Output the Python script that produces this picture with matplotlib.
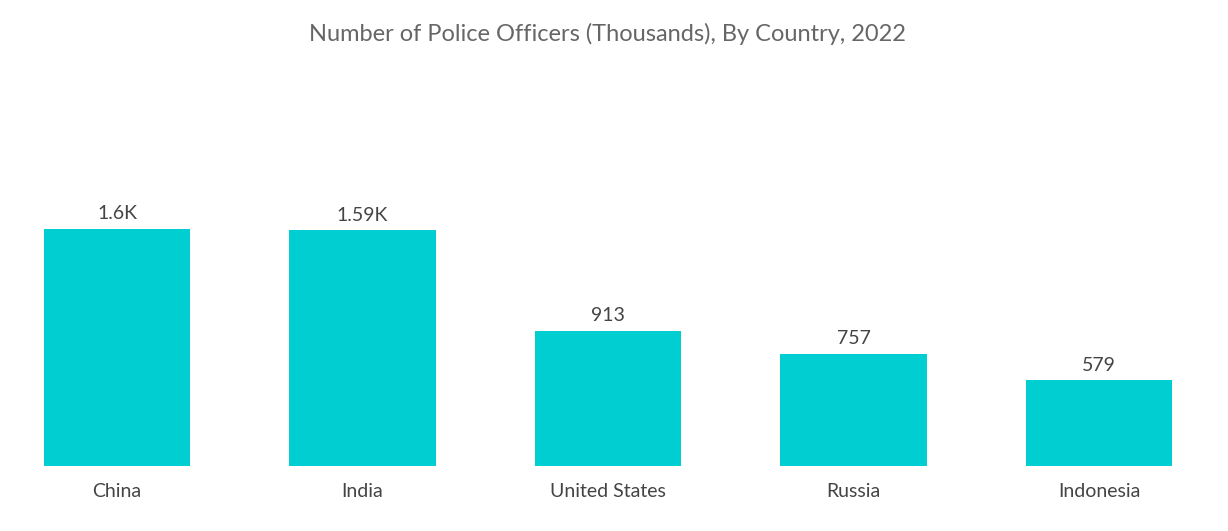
import matplotlib
matplotlib.use("Agg")
import matplotlib.pyplot as plt

categories = ["China", "India", "United States", "Russia", "Indonesia"]
values = [1600, 1590, 913, 757, 579]
labels = ["1.6K", "1.59K", "913", "757", "579"]

fig = plt.figure(figsize=(12.28, 5.31), dpi=100)
ax = fig.add_axes([0, 1 - 466/531, 1, (466 - 100)/531])
ax.bar(range(len(values)), values, width=0.595, color="#00CED1")
ax.set_xlim(-117/245.5, (1228 - 117)/245.5)
ax.set_ylim(0, (466 - 100)/237*1600)
for i, (v, l) in enumerate(zip(values, labels)):
    ax.text(i, v + 45, l, ha="center", va="bottom", fontsize=14, color="#444444", family="Lato")
ax.set_xticks(range(len(values)))
ax.set_xticklabels(categories, fontsize=14, color="#444444", family="Lato")
ax.tick_params(axis="x", length=0, pad=12)
ax.set_yticks([])
for s in ax.spines.values():
    s.set_visible(False)
fig.text(0.495, 1 - 34/531, "Number of Police Officers (Thousands), By Country, 2022",
         ha="center", va="center", fontsize=17, color="#666666", family="Lato")
fig.savefig("out.png", dpi=100)
